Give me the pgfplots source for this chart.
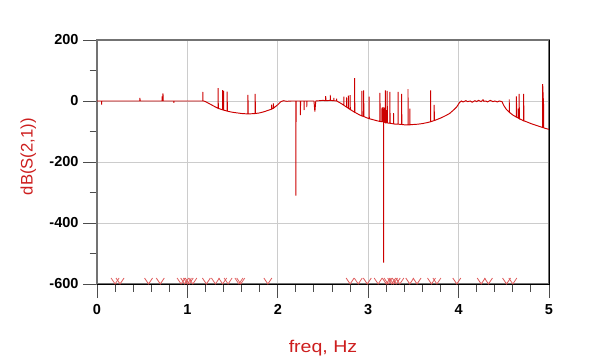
\documentclass[border=0pt]{standalone}
\usepackage{pgfplots}
\pgfplotsset{compat=1.18}
\usepackage{fontspec}
\setmainfont{Liberation Sans}
\newfontfamily\xlabfont[FakeStretch=1.15]{Liberation Sans}
\definecolor{curvered}{RGB}{204,0,0}
\definecolor{markred}{RGB}{222,90,90}
\definecolor{labred}{RGB}{205,30,30}
\pgfdeclareplotmark{vee}{%
  \pgfpathmoveto{\pgfqpoint{-4pt}{6pt}}%
  \pgfpathlineto{\pgfqpoint{0pt}{0pt}}%
  \pgfpathlineto{\pgfqpoint{4pt}{6pt}}%
  \pgfusepathqstroke}
\begin{document}
\begin{tikzpicture}
\begin{axis}[
  scale only axis,
  width=452pt, height=244pt,
  xmin=0, xmax=5, ymin=-600, ymax=200,
  xtick={0,1,2,3,4,5}, xticklabels={0,1,2,3,4,5},
  ytick={-600,-400,-200,0,200}, yticklabels={-600,-400,-200,0,200},
  minor x tick num=4, minor y tick num=1,
  xtick pos=bottom, ytick pos=left,
  tick align=outside,
  major tick length=14pt, minor tick length=7.5pt,
  every tick/.style={black!70, line width=1pt},
  grid=major,
  major grid style={black!20, line width=0.9pt},
  axis line style={black!55, line width=1.3pt},
  tick label style={font=\bfseries\fontsize{14.5}{16}\selectfont, black},
  xticklabel style={yshift=-3pt},
  yticklabel style={xshift=-1pt},
  xlabel={\xlabfont freq, Hz},
  ylabel={dB(S(2,1))},
  xlabel style={at={(axis description cs:0.5,0)}, anchor=base, yshift=-68pt, font=\fontsize{17}{20}\selectfont, text=labred},
  ylabel style={at={(axis description cs:-0.152,0.522)}, anchor=center, rotate=0, font=\fontsize{16.7}{20}\selectfont, text=labred},
  clip=false,
]
\addplot[curvered, line width=0.95pt, mark=none] table {
x y
0 0
0.05 0
0.05 -12
0.052 0
0.3 0
0.475 0
0.475 10
0.477 0
0.72 0
0.72 15
0.725 2
0.73 25
0.732 0
0.85 0
0.85 -6
0.852 0
1.17 0
1.17 30
1.172 0
1.18 0
1.2 -2
1.25 -10
1.3 -18
1.34 -24
1.34 42
1.342 -24
1.35 -25
1.39 -29
1.39 36
1.395 -29
1.40 33
1.402 -30
1.44 -33
1.44 31
1.442 -33
1.45 -34
1.5 -37
1.55 -39
1.6 -41
1.65 -42
1.67 -42
1.67 20
1.672 -42
1.7 -42
1.75 -41
1.75 23
1.752 -41
1.8 -39
1.85 -35
1.9 -30
1.93 -27
1.93 -12
1.935 -26
1.95 -24
1.95 -8
1.955 -23
2.0 -12
2.03 -3
2.06 1
2.1 -1
2.15 0
2.2 0
2.2 -310
2.202 0
2.25 0
2.25 -46
2.252 0
2.29 0
2.29 -30
2.292 0
2.32 0
2.32 -20
2.322 0
2.40 0
2.41 -35
2.42 0
2.5 2
2.53 1
2.53 16
2.532 1
2.58 2
2.58 20
2.582 2
2.62 1
2.62 10
2.622 1
2.65 0
2.65 8
2.652 0
2.67 -3
2.7 -8
2.73 -14
2.73 14
2.732 -14
2.75 -18
2.76 -20
2.76 12
2.762 -20
2.78 -24
2.78 18
2.782 -24
2.8 -28
2.8 19
2.802 -28
2.85 -37
2.85 75
2.852 -37
2.9 -45
2.93 -49
2.93 33
2.932 -49
2.95 -51
2.95 35
2.952 -51
3.0 -57
3.01 -58
3.01 14
3.012 -58
3.05 -61
3.1 -65
3.13 -67
3.13 27
3.132 -67
3.15 -68
3.15 -25
3.155 -68
3.155 -22
3.16 -69
3.16 -28
3.165 -69
3.165 -20
3.17 -70
3.17 -530
3.172 -70
3.175 -25
3.18 -70
3.18 -22
3.185 -70
3.19 -71
3.19 35
3.192 -71
3.2 -71
3.2 -30
3.205 -72
3.21 -72
3.21 33
3.212 -72
3.24 -73
3.24 30
3.242 -73
3.28 -75
3.28 -40
3.282 -75
3.3 -76
3.33 -76
3.33 30
3.332 -76
3.37 -77
3.37 23
3.372 -77
3.4 -78
3.44 -78
3.44 39
3.442 -78
3.46 -78
3.46 -25
3.462 -78
3.5 -77
3.55 -76
3.6 -74
3.65 -71
3.69 -68
3.69 35
3.692 -68
3.73 -64
3.73 -13
3.732 -64
3.75 -62
3.8 -56
3.85 -49
3.9 -41
3.95 -28
3.98 -19
4.01 -5
4.03 0
4.05 -3
4.08 1
4.1 -2
4.13 0
4.15 -4
4.18 1
4.2 -2
4.22 2
4.25 -2
4.27 4
4.28 -1
4.3 0
4.32 -3
4.35 2
4.38 -2
4.4 0
4.43 -3
4.45 0
4.48 -2
4.5 -15
4.53 -28
4.56 -37
4.56 5
4.562 -37
4.6 -46
4.64 -53
4.64 15
4.642 -53
4.66 -56
4.66 -25
4.662 -56
4.67 -58
4.67 23
4.672 -58
4.7 -62
4.72 -65
4.72 23
4.722 -65
4.75 -68
4.8 -74
4.85 -79
4.9 -84
4.93 -87
4.93 55
4.94 -15
4.942 -88
4.95 -89
5.0 -93
};
\addplot[only marks, mark=vee, mark options={markred, line width=0.8pt}] table {
x y
0.2 -600
0.255 -600
0.57 -600
0.70 -600
0.93 -600
0.97 -600
1.0 -600
1.02 -600
1.06 -600
1.21 -600
1.31 -600
1.39 -600
1.45 -600
1.57 -600
1.59 -600
1.89 -600
2.80 -600
2.89 -600
2.99 -600
3.11 -600
3.20 -600
3.22 -600
3.26 -600
3.28 -600
3.31 -600
3.35 -600
3.46 -600
3.54 -600
3.70 -600
3.76 -600
3.98 -600
4.25 -600
4.33 -600
4.53 -600
4.60 -600
};
\draw[black, line width=1pt] (rel axis cs:0,0) -- (rel axis cs:1,0) -- (rel axis cs:1,1);
\coordinate (sw) at (rel axis cs:0,0);
\coordinate (ne) at (rel axis cs:1,1);
\end{axis}
\pgfresetboundingbox
\path ([shift={(-97pt,-71pt)}]sw) rectangle ([shift={(51pt,40pt)}]ne);
\end{tikzpicture}
\end{document}
